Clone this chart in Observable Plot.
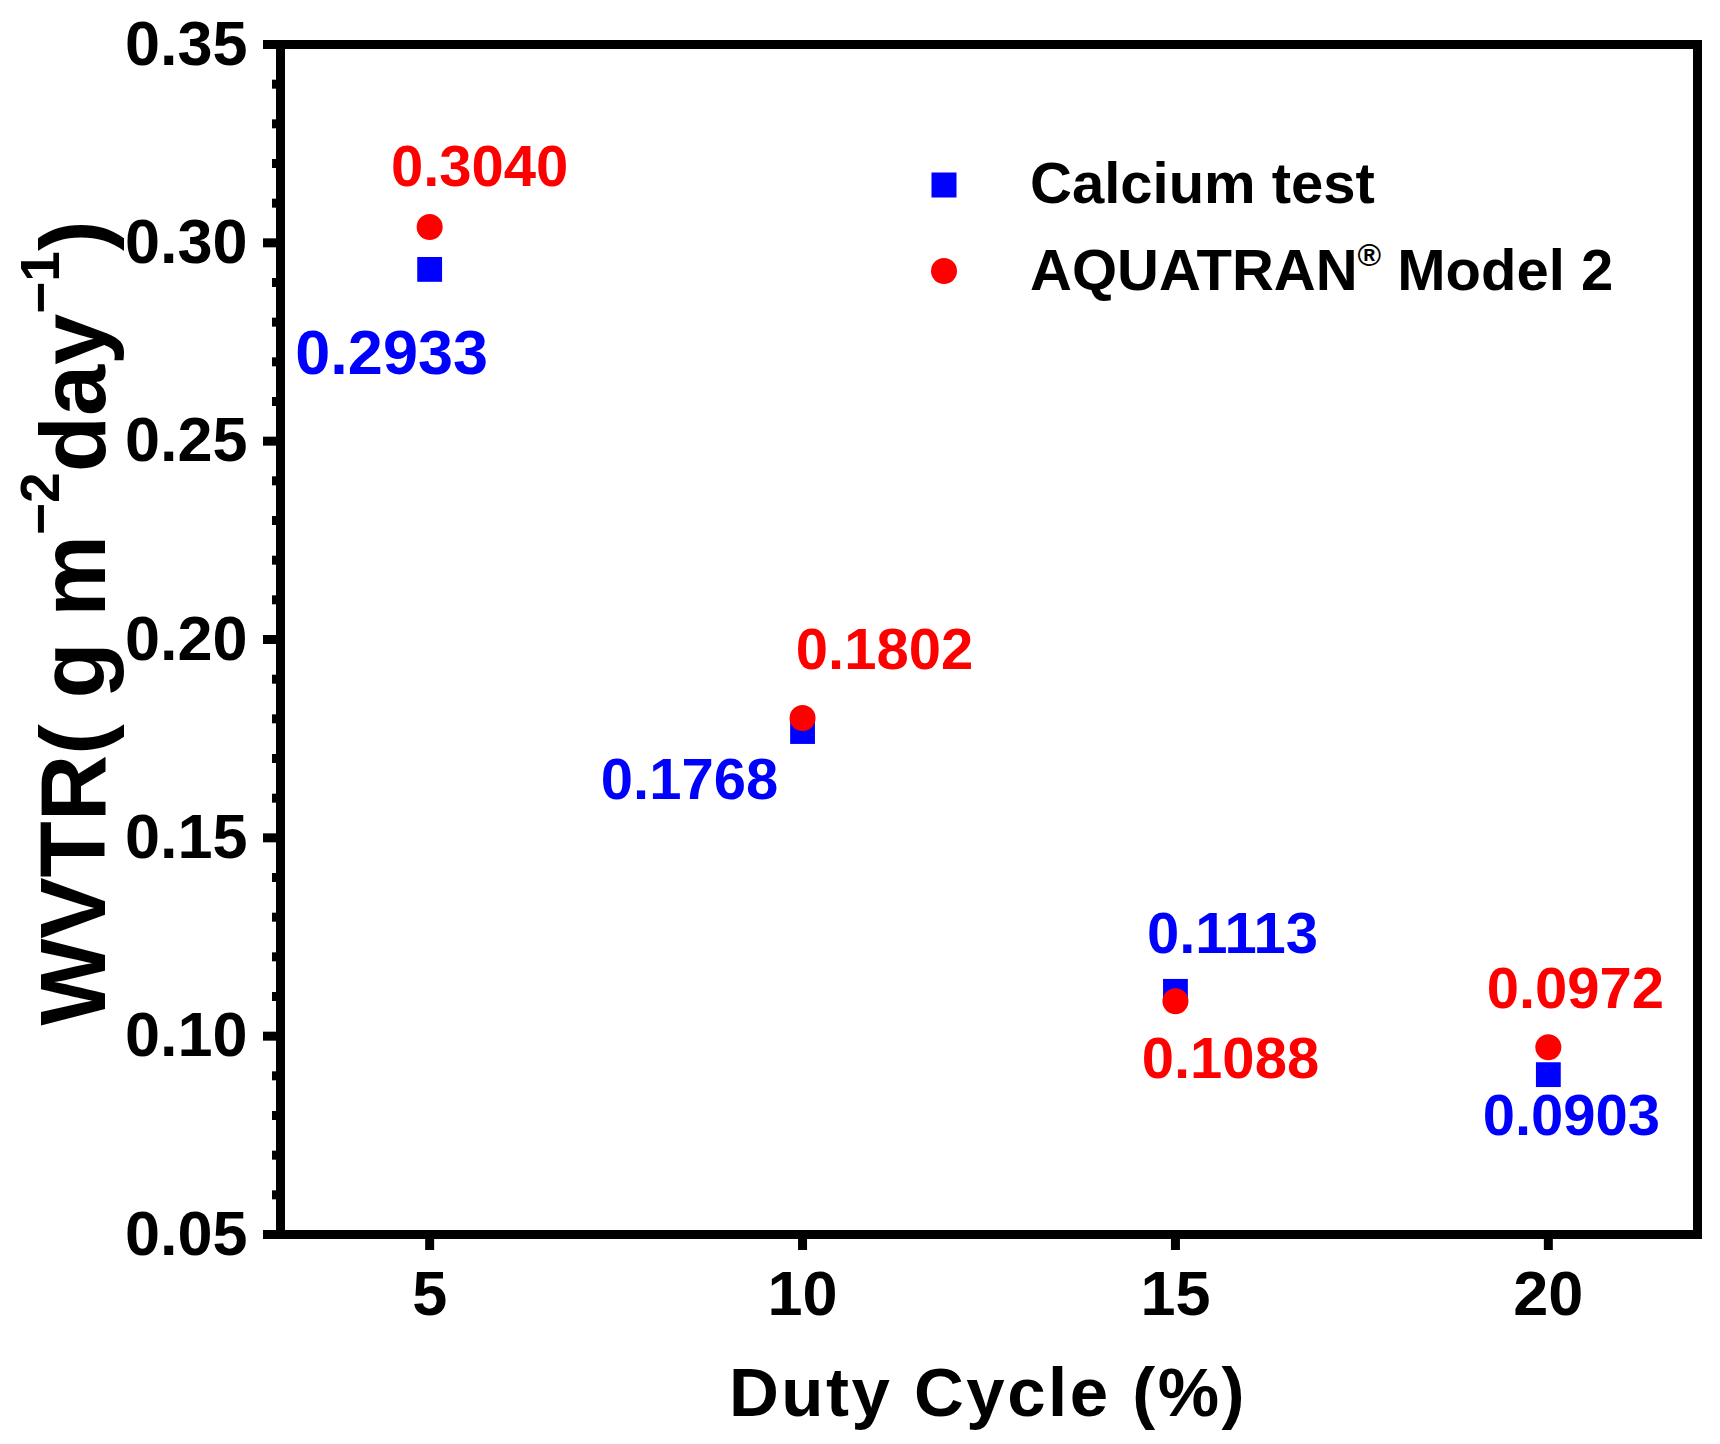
<!DOCTYPE html>
<html>
<head>
<meta charset="utf-8">
<script src="https://cdn.jsdelivr.net/npm/d3@7"></script>
<script src="https://cdn.jsdelivr.net/npm/@observablehq/plot@0.6"></script>
<style>
  html, body { margin: 0; padding: 0; background: #ffffff; }
  #chart svg { display: block; }
</style>
</head>
<body>
<div id="chart"></div>
<script>
// ---- data ----
const dutyCycle = [5, 10, 15, 20];
const calciumWVTR = [0.2933, 0.1768, 0.1113, 0.0903];
const aquatranWVTR = [0.3040, 0.1802, 0.1088, 0.0972];
const calciumLabels = ["0.2933", "0.1768", "0.1113", "0.0903"];
const aquatranLabels = ["0.3040", "0.1802", "0.1088", "0.0972"];
const seriesNames = ["Calcium test", "AQUATRAN", "Model 2"];
const xTicks = [5, 10, 15, 20];
const yTicks = [0.05, 0.10, 0.15, 0.20, 0.25, 0.30, 0.35];
const yMinorTicks = [0.06, 0.07, 0.08, 0.09, 0.11, 0.12, 0.13, 0.14, 0.16, 0.17, 0.18, 0.19,
                     0.21, 0.22, 0.23, 0.24, 0.26, 0.27, 0.28, 0.29, 0.31, 0.32, 0.33, 0.34];

// ---- layout (label offsets in px and font sizes, separate from data) ----
const calciumLabelOffset = [[-38, 84], [-113, 49], [57, -57], [23, 42]];
const aquatranLabelOffset = [[50, -60], [82, -68], [55, 58], [27, -58]];
const calciumLabelSize = [63, 58, 58, 58];
const aquatranLabelSize = [58, 58, 58, 58];

const BLUE = "#0000ff", RED = "#ff0000";
const FONT = "'Liberation Sans', Arial, Helvetica, sans-serif";

const idx = dutyCycle.map((_, i) => i);

const labelMarks = [];
idx.forEach(i => {
  labelMarks.push(Plot.text([i], {
    x: j => dutyCycle[j], y: j => calciumWVTR[j], text: j => calciumLabels[j],
    dx: calciumLabelOffset[i][0], dy: calciumLabelOffset[i][1],
    fill: BLUE, fontSize: calciumLabelSize[i], fontWeight: "bold", fontFamily: FONT
  }));
  labelMarks.push(Plot.text([i], {
    x: j => dutyCycle[j], y: j => aquatranWVTR[j], text: j => aquatranLabels[j],
    dx: aquatranLabelOffset[i][0], dy: aquatranLabelOffset[i][1],
    fill: RED, fontSize: aquatranLabelSize[i], fontWeight: "bold", fontFamily: FONT
  }));
});

const plot = Plot.plot({
  width: 1720,
  height: 1444,
  marginLeft: 280,
  marginRight: 23,
  marginTop: 44,
  marginBottom: 210,
  style: { fontFamily: FONT, fontSize: "63px", fontWeight: "bold", background: "#ffffff", color: "#000" },
  x: { domain: [3, 22] },
  y: { domain: [0.05, 0.35] },
  marks: [
    Plot.axisY({ ticks: yMinorTicks, tickSize: 8, tickFormat: () => "", strokeWidth: 9, label: null }),
    Plot.axisY({ ticks: yTicks, tickSize: 17, tickPadding: 16, tickFormat: d3.format(".2f"),
                 strokeWidth: 9, label: null, fontSize: 63, fontWeight: "bold", fontFamily: FONT }),
    Plot.axisX({ ticks: xTicks, tickSize: 16, tickPadding: 20, tickFormat: d3.format("d"),
                 strokeWidth: 9, label: null, fontSize: 63, fontWeight: "bold", fontFamily: FONT }),
    Plot.frame({ stroke: "#000", strokeWidth: 9 }),
    Plot.dot(idx, { x: i => dutyCycle[i], y: i => calciumWVTR[i], symbol: "square", r: 14, fill: BLUE }),
    Plot.dot(idx, { x: i => dutyCycle[i], y: i => aquatranWVTR[i], symbol: "circle", r: 13, fill: RED }),
    ...labelMarks
  ]
});

document.getElementById("chart").appendChild(plot);

const svg = d3.select(plot);

// Y axis title with superscripts
const yt = svg.append("text")
  .attr("transform", "translate(105,623) rotate(-90)")
  .attr("text-anchor", "middle")
  .attr("font-family", FONT)
  .attr("font-weight", "bold")
  .attr("font-size", 92)
  .attr("fill", "#000");
yt.append("tspan").text("WVTR( g m");
yt.append("tspan").attr("font-size", 55).attr("dy", -46).text("\u22122");
yt.append("tspan").attr("dy", 46).text("day");
yt.append("tspan").attr("font-size", 55).attr("dy", -46).text("\u22121");
yt.append("tspan").attr("dy", 46).text(")");

// X axis title
svg.append("text")
  .attr("x", 988).attr("y", 1416)
  .attr("text-anchor", "middle")
  .attr("font-family", FONT)
  .attr("font-weight", "bold")
  .attr("font-size", 69)
  .attr("letter-spacing", "2.5px")
  .attr("fill", "#000")
  .text("Duty Cycle (%)");

// Legend
const lg = svg.append("g").attr("text-anchor", "start");
lg.append("rect").attr("x", 944 - 12.5).attr("y", 185 - 12.5).attr("width", 25).attr("height", 25).attr("fill", BLUE);
lg.append("circle").attr("cx", 944).attr("cy", 271).attr("r", 13).attr("fill", RED);
lg.append("text").attr("x", 1030).attr("y", 203).attr("text-anchor", "start")
  .attr("font-family", FONT).attr("font-weight", "bold").attr("font-size", 58).attr("fill", "#000")
  .text(seriesNames[0]);
const l2 = lg.append("text").attr("x", 1030).attr("y", 290).attr("text-anchor", "start")
  .attr("font-family", FONT).attr("font-weight", "bold").attr("font-size", 58).attr("fill", "#000");
l2.append("tspan").text(seriesNames[1]);
l2.append("tspan").attr("font-size", 32).attr("dy", -24).text("\u00AE");
l2.append("tspan").attr("dy", 24).text(" " + seriesNames[2]);
</script>
</body>
</html>
